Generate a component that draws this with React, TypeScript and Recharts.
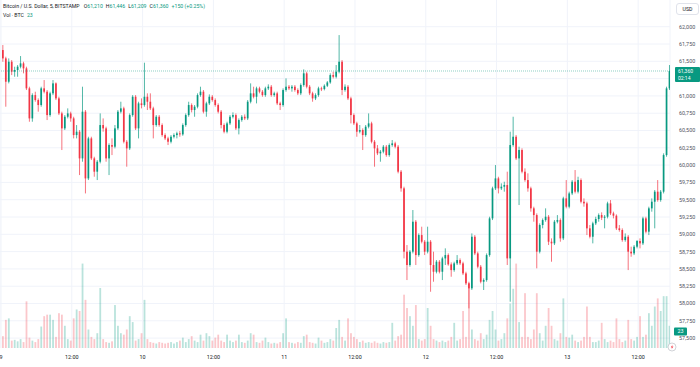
import React from "react";
import { ComposedChart, Bar, XAxis, YAxis, CartesianGrid, ReferenceLine } from "recharts";

const firstOpen = 61663;

const closes = [
  61542, 61205, 61494, 61350, 61374, 61422, 61470, 61398, 61109, 60675,
  61012, 60940, 60868, 61109, 61061, 60723, 61037, 61181, 60964, 60747,
  60531, 60699, 60747, 60675, 60434, 60483, 60097, 60772, 59808, 60386,
  60097, 59905, 60049, 60579, 60531, 60097, 60290, 60266, 60531, 60772,
  60820, 60338, 60242, 60723, 60988, 60531, 60892, 60868, 60988, 60916,
  60820, 60579, 60699, 60579, 60434, 60386, 60338, 60410, 60434, 60459,
  60444, 60579, 60723, 60868, 60796, 60844, 61012, 61061, 60772, 60892,
  60988, 60940, 60868, 60772, 60579, 60483, 60603, 60699, 60723, 60531,
  60651, 60699, 60675, 60916, 61037, 60988, 61109, 61061, 61012, 61109,
  61133, 61012, 61037, 60892, 60868, 61085, 61133, 61109, 61133, 61085,
  61037, 61157, 61326, 61133, 61037, 60964, 61012, 61109, 61099, 61147,
  61195, 61301, 61277, 61350, 61494, 61085, 61133, 60964, 60723, 60603,
  60483, 60507, 60434, 60555, 60603, 60338, 60242, 60170, 60194, 60266,
  60145, 60290, 60314, 60266, 59905, 59664, 58749, 58556, 58749, 59182,
  58700, 58989, 58893, 58749, 58893, 58556, 58459, 58604, 58459, 58652,
  58700, 58565, 58483, 58580, 58628, 58580, 58435, 58291, 58219, 58965,
  58724, 58532, 58315, 58339, 58700, 59230, 59664, 59808, 59664, 59688,
  59712, 58652, 60290, 60410, 60097, 60218, 59905, 59784, 59664, 59375,
  59278, 58749, 59134, 59206, 59254, 58893, 58869, 59182, 59206, 58941,
  59519, 59399, 59591, 59760, 59616, 59784, 59471, 59447, 59086, 58965,
  59158, 59221, 59278, 59240, 59254, 59447, 59302, 59269, 59086, 59062,
  58917, 58965, 58749, 58724, 58821, 58903, 58869, 59230, 59038, 59375,
  59471, 59616, 59495, 59616, 60145, 61109, 61360,
];

const highs = [
  61735, 61566, 61542, 61518, 61422, 61446, 61576, 61494, 61422, 61133,
  61037, 61061, 60964, 61133, 61229, 61085, 61061, 61229, 61195, 60988,
  60772, 60723, 60820, 60772, 60699, 60579, 60507, 61133, 60796, 60410,
  60410, 60121, 60073, 60747, 60675, 60555, 60314, 60386, 60579, 60796,
  60916, 60844, 60362, 60747, 61012, 61012, 60916, 60964, 61480, 61037,
  61037, 60844, 60723, 60723, 60603, 60459, 60410, 60434, 60459, 60483,
  60492, 60603, 60747, 60916, 60892, 60868, 61037, 61133, 61085, 60916,
  61022, 61012, 60964, 60892, 60796, 60603, 60627, 60723, 60762, 60747,
  60675, 60723, 60733, 60940, 61181, 61133, 61133, 61133, 61085, 61133,
  61167, 61157, 61061, 61061, 60916, 61109, 61253, 61157, 61157, 61157,
  61109, 61181, 61383, 61350, 61157, 61061, 61037, 61133, 61133, 61167,
  61215, 61326, 61350, 61446, 61879, 61518, 61167, 61157, 60988, 60747,
  60627, 60579, 60531, 60579, 60747, 60627, 60362, 60290, 60218, 60290,
  60290, 60314, 60362, 60338, 60290, 59929, 59688, 58845, 58772, 59351,
  59206, 59013, 59110, 58917, 59110, 58917, 58749, 58628, 58628, 58676,
  58797, 58724, 58594, 58604, 58700, 58652, 58604, 58459, 58315, 59013,
  58989, 58749, 58556, 58363, 58724, 59254, 59688, 60001, 59832, 59736,
  59760, 59905, 60483, 60699, 60434, 60266, 60242, 59953, 59881, 59688,
  59399, 59302, 59158, 59230, 59375, 59278, 58941, 59206, 59278, 59230,
  59543, 59784, 59616, 59784, 59929, 59832, 59808, 59519, 59471, 59134,
  59182, 59254, 59302, 59317, 59278, 59471, 59495, 59327, 59288, 59134,
  59086, 59013, 58989, 58821, 58845, 58917, 58941, 59254, 59254, 59399,
  59519, 59640, 59784, 59640, 60170, 61133, 61446,
];

const lows = [
  61494, 60844, 61181, 61301, 61277, 61277, 61398, 61326, 61085, 60627,
  60627, 60916, 60772, 60844, 61037, 60651, 60699, 61012, 60940, 60723,
  60218, 60507, 60675, 60627, 60386, 60386, 59856, 60049, 59591, 59784,
  60073, 59832, 59784, 60025, 60483, 60049, 59856, 60145, 60242, 60507,
  60747, 60314, 59977, 60218, 60699, 60507, 60386, 60820, 60844, 60796,
  60796, 60386, 60555, 60555, 60410, 60362, 60290, 60314, 60386, 60386,
  60410, 60424, 60555, 60699, 60762, 60699, 60820, 60988, 60747, 60699,
  60868, 60916, 60844, 60747, 60531, 60459, 60459, 60579, 60675, 60507,
  60444, 60627, 60651, 60651, 60892, 60964, 60892, 61037, 60988, 60988,
  61085, 60988, 60988, 60868, 60796, 60844, 61061, 61085, 61061, 61061,
  61012, 61012, 61133, 61109, 61012, 60916, 60940, 60988, 61070, 61080,
  61128, 61176, 61253, 61253, 61326, 61012, 61061, 60940, 60603, 60579,
  60410, 60459, 60218, 60410, 60531, 60314, 59977, 60145, 60049, 60170,
  60121, 60121, 60266, 60242, 59881, 59616, 58652, 58339, 58532, 58724,
  58556, 58676, 58869, 58700, 58724, 58170, 58315, 58435, 58435, 58339,
  58556, 58546, 58387, 58459, 58556, 58556, 58411, 58267, 57930, 58195,
  58700, 58508, 58291, 58195, 58315, 58676, 59206, 59640, 59591, 59640,
  59616, 58556, 58026, 60266, 60073, 59423, 59881, 59760, 59616, 59327,
  59182, 58508, 58724, 59086, 59182, 58845, 58604, 58845, 59158, 58893,
  58917, 59375, 59375, 59567, 59591, 59591, 59447, 59399, 58989, 58941,
  58869, 59134, 59182, 59206, 59086, 59230, 59278, 59230, 59062, 59038,
  58893, 58893, 58483, 58676, 58700, 58797, 58797, 58845, 59013, 58989,
  59327, 59086, 59471, 59471, 59591, 60121, 61085,
];

// volume in BTC (peak 5-min bar inside each bucket)
const volumes = [
  16, 38, 40, 10, 11, 9, 12, 8, 63, 14,
  10, 8, 12, 29, 43, 45, 45, 38, 15, 47,
  45, 30, 12, 10, 40, 52, 50, 114, 65, 25,
  15, 12, 20, 81, 12, 8, 7, 9, 58, 30,
  20, 18, 25, 43, 35, 10, 12, 20, 65, 12,
  8, 7, 6, 8, 7, 6, 7, 8, 6, 8,
  10, 14, 8, 12, 16, 10, 8, 18, 10, 20,
  16, 10, 14, 18, 10, 8, 18, 10, 8, 10,
  18, 8, 7, 10, 20, 18, 8, 7, 10, 14,
  8, 6, 7, 6, 8, 20, 40, 8, 7, 6,
  8, 7, 16, 18, 8, 7, 6, 14, 10, 7,
  8, 12, 10, 27, 38, 15, 10, 40, 20, 15,
  12, 8, 10, 7, 8, 7, 9, 7, 6, 8,
  7, 8, 34, 10, 16, 18, 72, 54, 43, 30,
  58, 12, 10, 12, 54, 30, 12, 10, 8, 10,
  8, 10, 15, 34, 10, 12, 50, 15, 88, 25,
  12, 10, 20, 12, 18, 38, 50, 25, 10, 12,
  20, 40, 60, 80, 114, 35, 15, 74, 15, 12,
  25, 74, 20, 10, 30, 54, 30, 12, 10, 20,
  67, 15, 14, 18, 10, 8, 10, 15, 56, 15,
  8, 8, 10, 34, 12, 8, 10, 8, 40, 12,
  8, 10, 38, 12, 10, 15, 43, 15, 18, 47,
  30, 56, 67, 50, 70, 70, 30,
];

// grid every 250; the 61,250 label sits under the last-price tag, so it is not printed
const gridPrices = [
  57500, 57750, 58000, 58250, 58500, 58750, 59000, 59250, 59500,
  59750, 60000, 60250, 60500, 60750, 61000, 61250, 61500, 61750, 62000,
];
const priceTicks = gridPrices.filter((p) => p !== 61250);
const timeTicks = [0, 12, 24, 36, 48, 60, 72, 84, 96, 108];
const timeLabels = ["9", "12:00", "10", "12:00", "11", "12:00", "12", "12:00", "13", "12:00"];

const lastPrice = 61360;
const lastVol = 23;

const UP = "#089981";
const DOWN = "#f23645";
const FONT = "Roboto, 'Noto Sans', sans-serif";

const data = closes.map((c, i) => {
  const o = i === 0 ? firstOpen : closes[i - 1];
  const hi = Math.max(highs[i], o, c);
  const lo = Math.min(lows[i], o, c);
  return { t: i * 0.5 + 0.25, open: o, close: c, high: hi, low: lo, range: [lo, hi], vol: volumes[i] };
});

const Candle = (props: any) => {
  const { x, y, width, height, payload } = props;
  if (!payload) return null;
  const { open, close, high, low } = payload;
  const top = Math.min(y, y + height);
  const h = Math.abs(height);
  const k = high - low > 0 ? h / (high - low) : 0;
  const color = close >= open ? UP : DOWN;
  const bodyTop = top + (high - Math.max(open, close)) * k;
  const bodyH = Math.max(1, Math.abs(open - close) * k);
  const mid = x + width / 2;
  return (
    <g>
      <line x1={mid} x2={mid} y1={top} y2={top + h} stroke={color} strokeWidth={0.7} />
      <rect x={x} y={bodyTop} width={width} height={bodyH} fill={color} />
    </g>
  );
};

const VolBar = (props: any) => {
  const { x, y, width, height, payload } = props;
  if (!payload) return null;
  const color = payload.close >= payload.open ? UP : DOWN;
  return <rect x={x} y={y} width={width} height={height} fill={color} fillOpacity={0.28} />;
};

const PriceTag = (props: any) => {
  const vb = props.viewBox || {};
  const left = vb.x + vb.width + 5;
  const y = vb.y;
  return (
    <g>
      <rect x={left} y={y - 4} width={25} height={15} fill={UP} rx={1} />
      <text x={left + 3} y={y + 1.8} fill="#fff" fontSize={5} fontFamily={FONT}>61,360</text>
      <text x={left + 3} y={y + 8.6} fill="#fff" fontSize={5} fontFamily={FONT}>02:14</text>
    </g>
  );
};

const VolTag = (props: any) => {
  const vb = props.viewBox || {};
  const left = vb.x + vb.width + 4;
  const y = vb.y;
  return (
    <g>
      <rect x={left} y={y - 3.5} width={13} height={8} fill={UP} rx={1} />
      <text x={left + 6.5} y={y + 2.4} fill="#fff" fontSize={5.4} fontFamily={FONT} textAnchor="middle">23</text>
    </g>
  );
};

export default function App() {
  return (
    <div style={{ position: "absolute", left: 0, top: 0, width: 700, height: 367, background: "#fff", overflow: "hidden" }}>
      <ComposedChart width={700} height={367} data={data} margin={{ top: 0, right: 0, bottom: 0, left: 0 }}>
        <CartesianGrid stroke="#f0f3fa" strokeWidth={1} horizontalValues={gridPrices} />
        <XAxis
          dataKey="t"
          type="number"
          domain={[-0.17, 113.4]}
          ticks={timeTicks}
          allowDataOverflow
          height={19}
          tickLine={false}
          axisLine={false}
          tickSize={0}
          tickMargin={7}
          interval={0}
          tickFormatter={(v: number) => timeLabels[timeTicks.indexOf(v)] ?? ""}
          tick={{ fontSize: 5.4, fill: "#131722", fontFamily: FONT }}
        />
        <XAxis xAxisId="v" dataKey="t" type="number" domain={[-0.17, 113.4]} allowDataOverflow hide />
        <YAxis
          orientation="right"
          domain={[57357, 62386]}
          ticks={priceTicks}
          allowDataOverflow
          width={30}
          tickLine={false}
          axisLine={false}
          tickSize={0}
          tickMargin={9}
          interval={0}
          tickFormatter={(v: number) => v.toLocaleString("en-US")}
          tick={{ fontSize: 5.4, fill: "#50535e", fontFamily: FONT }}
        />
        <YAxis yAxisId="v" domain={[0, 470]} allowDataOverflow hide />
        <Bar xAxisId="v" yAxisId="v" dataKey="vol" barSize={1.8} shape={VolBar} isAnimationActive={false} />
        <Bar dataKey="range" barSize={1.7} shape={Candle} isAnimationActive={false} />
        <ReferenceLine y={lastPrice} stroke={UP} strokeOpacity={0.45} strokeDasharray="1 1" label={PriceTag} />
        <ReferenceLine xAxisId="v" yAxisId="v" y={lastVol} stroke="none" label={VolTag} />
      </ComposedChart>
      <svg width={700} height={367} style={{ position: "absolute", left: 0, top: 0, pointerEvents: "none" }} fontFamily={FONT} fontSize={5.2}>
        <text x={3} y={8} fill="#131722">
          Bitcoin / U.S. Dollar, 5, BITSTAMP
          <tspan dx={4}>O</tspan><tspan fill={UP}>61,210</tspan>
          <tspan dx={3}>H</tspan><tspan fill={UP}>61,446</tspan>
          <tspan dx={3}>L</tspan><tspan fill={UP}>61,209</tspan>
          <tspan dx={3}>C</tspan><tspan fill={UP}>61,360</tspan>
          <tspan dx={3} fill={UP}>+150 (+0.25%)</tspan>
        </text>
        <text x={3} y={17} fill="#131722">
          Vol · BTC<tspan dx={3} fill={UP}>23</tspan>
        </text>
        <rect x={676.5} y={3.5} width={22} height={11} rx={2.5} fill="#fff" stroke="#e0e3eb" />
        <text x={687.5} y={11} fill="#131722" textAnchor="middle">USD</text>
        <circle cx={672} cy={347} r={4} fill="#fff" stroke="#b2b5be" strokeWidth={0.6} />
        <path d="M672.6 344.6 L670.8 347.4 L672.2 347.4 L671.4 349.6 L673.4 346.6 L672 346.6 Z" fill={DOWN} />
      </svg>
    </div>
  );
}
